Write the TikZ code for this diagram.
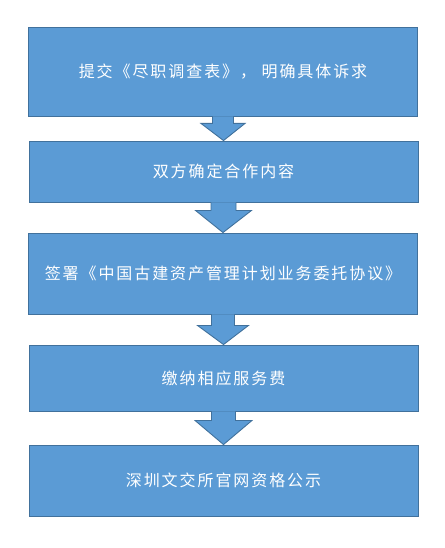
\documentclass[tikz,border=0pt]{standalone}
\usepackage{fontspec}
\newfontfamily\cjk[LetterSpace=12]{Noto Sans CJK SC}
\usetikzlibrary{calc}
\definecolor{boxblue}{HTML}{5B9BD5}
\definecolor{boxedge}{HTML}{41719C}
\tikzset{
	stepbox/.style={draw=boxedge, fill=boxblue, line width=0.9pt, minimum width=389pt, inner sep=0pt, text=white, font=\cjk\fontsize{16}{16}\selectfont},
	blockarrow/.style={draw=boxedge, fill=boxblue, line width=0.9pt, line join=miter}
}
% block arrow from the bottom of one box to the top of the next: (from)(to)(shaft:head:shaft length)
\def\blockdown(#1)(#2)(#3:#4:#5){\draw[blockarrow] ($(#1.south)+(-#3,0)$) -- ++(0,#5) -- ($(#1.south)+(-#4,#5)$) -- (#2.north) -- ($(#1.south)+(#4,#5)$) -- ($(#1.south)+(#3,#5)$) -- ($(#1.south)+(#3,0)$);}

\begin{document}
\begin{tikzpicture}[x=1pt, y=-1pt]
			%%%%% START %%%%%
			
			\useasboundingbox (0, 0) rectangle (444, 548);
			
			\node[stepbox, minimum height=89pt] (submit) at (223, 71.5) {提交《尽职调查表》，\ 明确具体诉求};
			\node[stepbox, minimum height=61pt] (agree) at (223.5, 171.5) {双方确定合作内容};
			\node[stepbox, minimum height=81pt] (sign) at (223, 273.5) {签署《中国古建资产管理计划业务委托协议》};
			\node[stepbox, minimum height=66pt] (pay) at (223.5, 378) {缴纳相应服务费};
			\node[stepbox, minimum height=71pt] (publish) at (223.5, 480.5) {深圳文交所官网资格公示};
			
			\blockdown(submit)(agree)(10.5:22:7)
			\blockdown(agree)(sign)(12.5:28:8)
			\blockdown(sign)(pay)(11.5:25.5:11)
			\blockdown(pay)(publish)(12:28.5:9)
			
			%%%%% END %%%%%
\end{tikzpicture}
\end{document}
